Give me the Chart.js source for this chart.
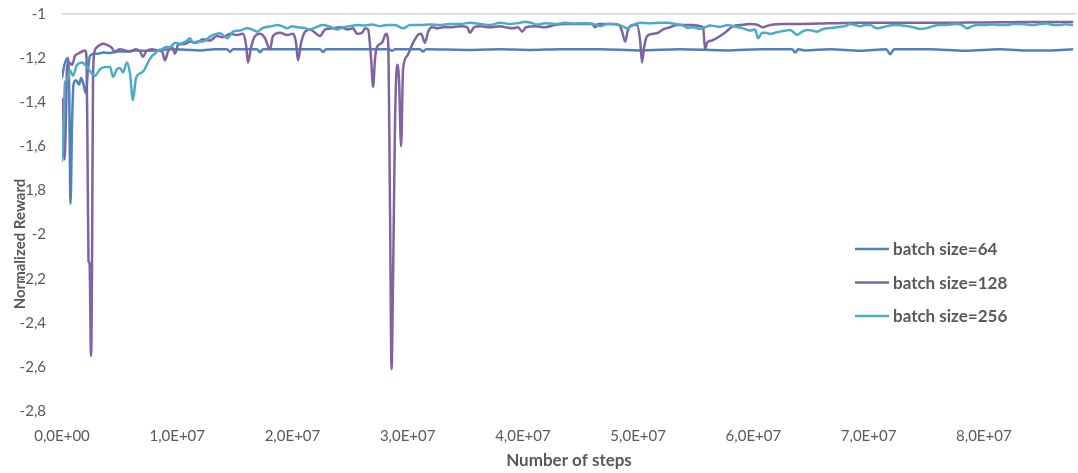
<!DOCTYPE html>
<html>
<head>
<meta charset="utf-8">
<script src="https://cdn.jsdelivr.net/npm/chart.js@4.4.0/dist/chart.umd.min.js"></script>
<style>
  html, body { margin: 0; padding: 0; background: #fff; }
</style>
</head>
<body>
<canvas id="chart" width="1078" height="473"></canvas>
<script>
const steps64 = [0,0.17,0.35,0.48,0.61,0.74,0.87,1.0,1.22,1.48,1.65,1.82,2.08,2.26,2.43,2.78,3.12,3.56,4.17,4.86,5.47,6.34,7.2,8.07,9.37,10.68,11.98,13.28,14.32,14.58,14.84,16.93,17.19,17.45,20.66,22.4,22.65,22.92,25.87,28.38,28.64,28.9,31.07,31.33,31.6,35.41,38.02,40.62,43.23,46.7,50.17,53.64,57.72,60.59,63.36,63.63,63.88,64.49,66.66,69.26,71.52,71.87,72.22,75.34,78.38,81.41,84.02,85.76,87.75];
const reward64 = [-1.29,-1.24,-1.21,-1.20,-1.30,-1.86,-1.50,-1.32,-1.30,-1.32,-1.29,-1.31,-1.36,-1.25,-1.19,-1.18,-1.18,-1.175,-1.177,-1.17,-1.17,-1.165,-1.167,-1.165,-1.16,-1.162,-1.165,-1.16,-1.16,-1.172,-1.16,-1.16,-1.173,-1.16,-1.16,-1.16,-1.172,-1.16,-1.16,-1.16,-1.167,-1.16,-1.16,-1.17,-1.16,-1.163,-1.16,-1.163,-1.16,-1.16,-1.165,-1.16,-1.165,-1.16,-1.16,-1.175,-1.16,-1.165,-1.16,-1.167,-1.16,-1.182,-1.16,-1.16,-1.167,-1.16,-1.166,-1.165,-1.16];

const steps128 = [0,0.09,0.22,0.35,0.43,0.61,0.87,1.13,1.39,1.74,
  2.0,2.13,2.21,2.3,2.39,2.52,2.6,2.69,2.82,3.04,
  3.3,3.56,3.91,4.25,4.6,5.03,5.47,5.9,6.42,6.77,
  7.03,7.29,7.81,8.33,8.68,8.94,9.2,9.55,9.81,10.07,
  10.68,11.11,11.63,12.24,12.85,13.45,13.97,14.58,15.19,15.71,
  15.97,16.14,16.41,16.75,17.19,17.62,18.05,18.31,18.92,19.53,
  20.05,20.31,20.48,20.75,21.09,21.53,21.96,22.39,22.83,23.52,
  24.13,24.82,25.26,25.61,26.04,26.3,26.56,26.82,27.0,27.17,
  27.34,27.78,28.12,28.3,28.47,28.6,28.73,28.9,29.08,29.25,
  29.43,29.6,29.95,30.47,30.9,31.16,31.51,31.77,32.12,32.55,
  33.07,33.68,34.55,35.15,35.41,35.76,36.28,37.15,38.02,38.45,
  39.15,39.58,39.93,40.28,41.06,41.92,42.79,43.66,45.4,46.0,
  46.26,46.52,47.57,48.35,48.61,48.87,49.13,49.56,49.91,50.17,
  50.34,50.52,50.78,51.3,51.73,52.17,52.77,53.38,54.77,55.38,
  55.64,55.81,55.99,56.42,57.11,57.64,58.24,58.85,59.72,60.41,
  60.76,61.45,62.58,64.06,66.66,69.26,71.87,74.47,77.08,79.68,
  82.29,84.89,87.75];
const reward128 = [-1.38,-1.42,-1.66,-1.45,-1.25,-1.22,-1.23,-1.19,-1.18,-1.17,
  -1.165,-1.2,-1.6,-2.12,-2.13,-2.55,-2.2,-1.3,-1.17,-1.15,
  -1.14,-1.135,-1.14,-1.15,-1.17,-1.16,-1.165,-1.17,-1.16,-1.17,
  -1.195,-1.17,-1.16,-1.165,-1.17,-1.21,-1.17,-1.15,-1.18,-1.14,
  -1.135,-1.125,-1.13,-1.115,-1.12,-1.10,-1.105,-1.09,-1.095,-1.09,
  -1.14,-1.22,-1.15,-1.10,-1.09,-1.11,-1.16,-1.10,-1.085,-1.095,
  -1.09,-1.13,-1.21,-1.13,-1.08,-1.07,-1.085,-1.10,-1.07,-1.065,
  -1.06,-1.07,-1.065,-1.09,-1.085,-1.065,-1.07,-1.2,-1.33,-1.2,
  -1.15,-1.13,-1.09,-1.12,-1.9,-2.61,-2.2,-1.5,-1.23,-1.3,
  -1.6,-1.25,-1.19,-1.13,-1.095,-1.09,-1.13,-1.08,-1.06,-1.065,
  -1.06,-1.06,-1.055,-1.06,-1.085,-1.06,-1.055,-1.06,-1.055,-1.06,
  -1.065,-1.06,-1.08,-1.06,-1.055,-1.06,-1.05,-1.045,-1.045,-1.045,
  -1.06,-1.045,-1.045,-1.05,-1.08,-1.125,-1.07,-1.05,-1.05,-1.12,
  -1.22,-1.15,-1.10,-1.09,-1.085,-1.07,-1.06,-1.05,-1.05,-1.055,
  -1.06,-1.16,-1.13,-1.12,-1.10,-1.08,-1.055,-1.05,-1.045,-1.05,
  -1.06,-1.05,-1.045,-1.045,-1.042,-1.04,-1.04,-1.04,-1.04,-1.038,
  -1.037,-1.036,-1.036];

const steps256 = [0,0.13,0.26,0.43,0.69,0.95,1.3,1.74,2.17,2.6,
  2.86,3.3,3.73,4.17,4.43,4.77,5.03,5.29,5.64,5.9,
  6.16,6.42,6.77,7.12,7.46,7.81,8.07,8.33,8.68,9.03,
  9.37,9.81,10.24,10.5,10.85,11.11,11.37,11.72,12.24,12.67,
  13.11,13.71,14.06,14.32,14.84,15.45,16.06,16.49,16.93,17.36,
  17.79,18.23,18.66,19.1,19.53,19.96,20.4,20.92,21.53,22.05,
  22.65,23.26,23.87,24.39,25.0,25.61,26.3,26.91,27.6,28.21,
  28.9,29.34,29.6,30.21,31.07,31.94,32.81,33.68,34.55,35.41,
  36.28,37.15,38.02,38.89,39.75,40.19,40.71,41.23,41.92,42.79,
  43.66,44.53,45.4,46.09,46.7,47.31,48.0,48.61,49.04,49.56,
  50.17,51.04,51.91,52.6,53.21,53.82,54.25,54.77,55.38,55.81,
  56.25,56.68,57.11,57.81,58.24,58.68,59.11,59.72,60.15,60.41,
  60.76,61.11,61.45,61.89,62.32,62.76,63.19,63.8,64.23,64.67,
  65.1,65.53,65.97,66.4,66.92,67.53,67.96,68.4,68.83,69.26,
  69.7,70.13,70.74,71.18,71.61,72.04,72.48,72.91,73.35,73.87,
  74.47,74.99,75.6,76.04,76.47,77.08,77.69,78.12,78.55,78.99,
  79.42,80.12,80.81,81.41,82.03,82.55,83.15,83.76,84.28,84.89,
  85.5,86.02,86.63,87.06,87.75];
const reward256 = [-1.67,-1.55,-1.31,-1.30,-1.255,-1.28,-1.23,-1.22,-1.24,-1.27,
  -1.28,-1.25,-1.24,-1.24,-1.285,-1.25,-1.245,-1.265,-1.22,-1.27,
  -1.39,-1.29,-1.27,-1.255,-1.22,-1.19,-1.18,-1.165,-1.16,-1.15,
  -1.15,-1.13,-1.135,-1.13,-1.12,-1.11,-1.13,-1.125,-1.125,-1.11,
  -1.095,-1.087,-1.10,-1.11,-1.08,-1.075,-1.065,-1.07,-1.08,-1.065,
  -1.058,-1.055,-1.05,-1.055,-1.065,-1.055,-1.06,-1.062,-1.07,-1.06,
  -1.05,-1.058,-1.07,-1.06,-1.055,-1.05,-1.052,-1.048,-1.055,-1.05,
  -1.05,-1.06,-1.065,-1.05,-1.05,-1.048,-1.05,-1.045,-1.045,-1.04,
  -1.045,-1.05,-1.04,-1.045,-1.04,-1.035,-1.04,-1.048,-1.042,-1.045,
  -1.04,-1.043,-1.042,-1.045,-1.055,-1.045,-1.045,-1.055,-1.065,-1.05,
  -1.04,-1.042,-1.04,-1.04,-1.045,-1.05,-1.062,-1.06,-1.068,-1.06,
  -1.052,-1.055,-1.058,-1.05,-1.055,-1.06,-1.065,-1.075,-1.07,-1.11,
  -1.085,-1.085,-1.09,-1.085,-1.08,-1.076,-1.072,-1.095,-1.08,-1.072,
  -1.075,-1.08,-1.07,-1.065,-1.062,-1.058,-1.055,-1.045,-1.05,-1.055,
  -1.05,-1.05,-1.065,-1.06,-1.055,-1.05,-1.05,-1.052,-1.055,-1.06,
  -1.068,-1.065,-1.055,-1.05,-1.05,-1.048,-1.045,-1.05,-1.065,-1.055,
  -1.05,-1.05,-1.048,-1.05,-1.05,-1.045,-1.045,-1.048,-1.05,-1.045,
  -1.043,-1.05,-1.05,-1.047,-1.05];

const seriesNames = ['batch size=64', 'batch size=128', 'batch size=256'];
const seriesColors = ['#4f81bd', '#8064a2', '#4bacc6'];

// axis ticks
const xTickValues = [0, 1e7, 2e7, 3e7, 4e7, 5e7, 6e7, 7e7, 8e7];
const yMin = -2.8, yMax = -1, yStep = 0.2;
const xMin = 0, xMax = 8.8e7;

function toPoints(steps, rewards) {
  return steps.map((s, i) => ({ x: s * 1e6, y: rewards[i] }));
}

// 1,0E+07 style labels
function sciLabel(v) {
  const parts = v.toExponential(1).split('e');
  const exp = parseInt(parts[1], 10);
  return parts[0].replace('.', ',') + 'E' + (exp < 0 ? '-' : '+') + String(Math.abs(exp)).padStart(2, '0');
}

function decLabel(v) {
  return String(Math.round(v * 10) / 10).replace('.', ',');
}

const textGray = '#595959';

// legend and y title drawn by hand, they sit over the plot like the original
const overlays = {
  id: 'overlays',
  afterDraw(chart) {
    const ctx = chart.ctx;
    ctx.save();
    ctx.font = 'bold 17px Lato';
    ctx.textBaseline = 'middle';
    ctx.fillStyle = textGray;
    seriesNames.forEach(function(name, i) {
      const y = 249 + i * 33.5;
      ctx.strokeStyle = seriesColors[i];
      ctx.lineWidth = 2.5;
      ctx.beginPath();
      ctx.moveTo(855, y);
      ctx.lineTo(889, y);
      ctx.stroke();
      ctx.fillText(name, 893, y + 1);
    });

    ctx.translate(20, 244);
    ctx.rotate(-Math.PI / 2);
    ctx.textAlign = 'center';
    ctx.font = 'bold 15px Lato';
    ctx.fillText('Normalized Reward', 0, 0);
    ctx.restore();
  }
};

const ctx = document.getElementById('chart').getContext('2d');
new Chart(ctx, {
  type: 'line',
  data: {
    datasets: [
      { label: seriesNames[0], data: toPoints(steps64, reward64), borderColor: seriesColors[0], order: 2 },
      { label: seriesNames[1], data: toPoints(steps128, reward128), borderColor: seriesColors[1], order: 1 },
      { label: seriesNames[2], data: toPoints(steps256, reward256), borderColor: seriesColors[2], order: 0 }
    ]
  },
  options: {
    responsive: false,
    animation: false,
    layout: { padding: { top: 14, right: 2, bottom: 0, left: 0 } },
    elements: {
      line: { borderWidth: 2.5, cubicInterpolationMode: 'monotone', fill: false, borderJoinStyle: 'round' },
      point: { radius: 0 }
    },
    plugins: {
      legend: { display: false },
      tooltip: { enabled: false }
    },
    scales: {
      x: {
        type: 'linear',
        min: xMin,
        max: xMax,
        afterFit: function(scale) { scale.height = 62; },
        afterBuildTicks: function(scale) {
          scale.ticks = xTickValues.map(function(v) { return { value: v }; });
        },
        grid: { display: false, drawTicks: false },
        border: { display: false },
        ticks: {
          maxRotation: 0,
          autoSkip: false,
          padding: 16,
          color: textGray,
          font: { family: 'Lato', size: 15 },
          callback: function(v) { return sciLabel(v); }
        },
        title: {
          display: true,
          text: 'Number of steps',
          color: textGray,
          font: { family: 'Lato', size: 17, weight: 'bold' },
          padding: { top: 0, bottom: 2 }
        }
      },
      y: {
        min: yMin,
        max: yMax,
        afterFit: function(scale) {
          scale.width = 62;
          scale.paddingTop = 0;
          scale.paddingBottom = 0;
        },
        grid: {
          drawTicks: false,
          lineWidth: 1.5,
          color: function(c) { return c.tick && Math.abs(c.tick.value - yMax) < 1e-9 ? '#d9d9d9' : 'rgba(0,0,0,0)'; }
        },
        border: { display: false },
        ticks: {
          stepSize: yStep,
          padding: 16,
          color: textGray,
          font: { family: 'Lato', size: 15 },
          callback: function(v) { return decLabel(v); }
        }
      }
    }
  },
  plugins: [overlays]
});
</script>
</body>
</html>
